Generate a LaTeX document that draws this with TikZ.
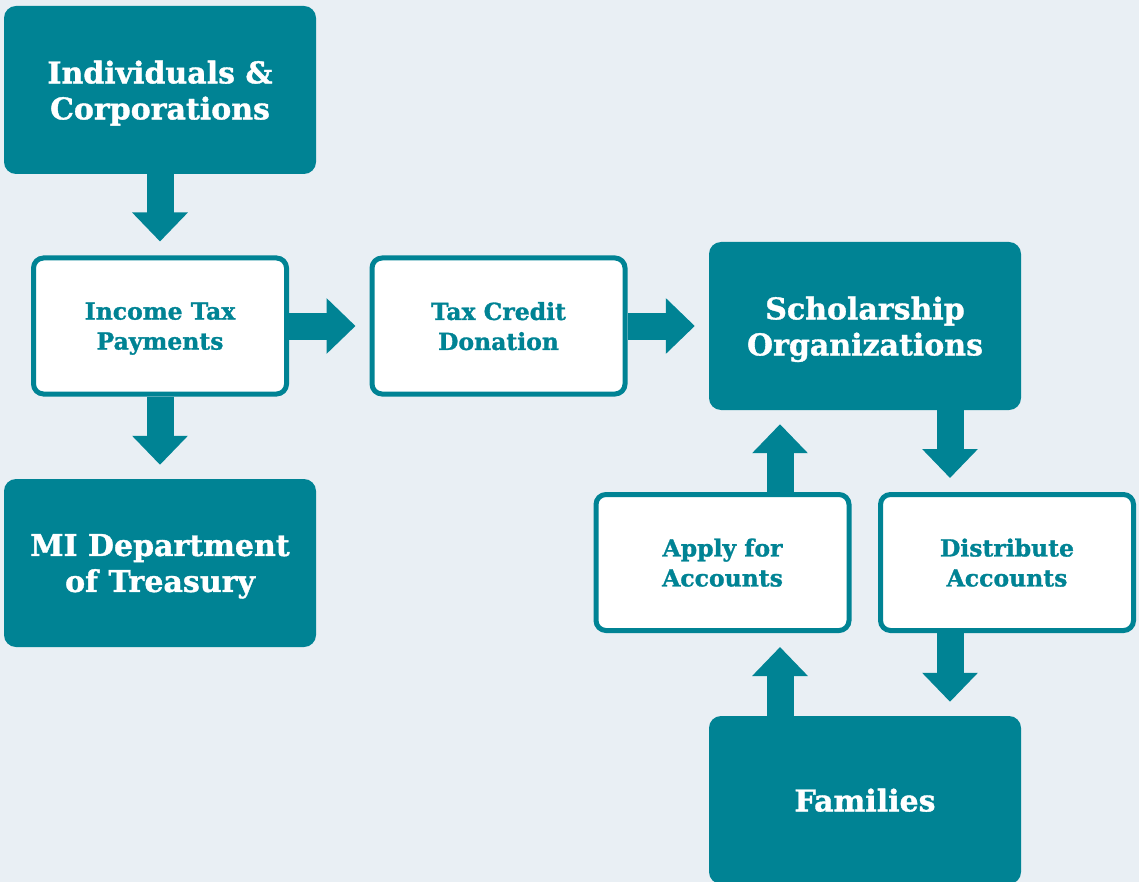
\documentclass[tikz,border=0pt]{standalone}
\usepackage{fontspec}
\newfontfamily\slab{DejaVu Serif}[BoldFeatures={FakeBold=1.2}]
\usetikzlibrary{arrows.meta,calc}
\definecolor{teal}{RGB}{0,131,148}
\definecolor{bgpale}{RGB}{233,239,244}
\begin{document}
\begin{tikzpicture}[x=1pt,y=-1pt,
  darkbox/.style={fill=teal, draw=none, rounded corners=12pt, text=white,
    minimum width=312pt, minimum height=168pt, inner sep=0pt, align=center,
    text depth=0pt, font=\slab\bfseries\fontsize{30}{36}\selectfont},
  lightbox/.style={fill=white, draw=teal, line width=5pt, rounded corners=10pt, text=teal,
    minimum width=253pt, minimum height=136pt, inner sep=0pt, align=center,
    text depth=0pt, font=\slab\bfseries\fontsize{23.5}{30}\selectfont},
  bigarrow/.style={draw=teal, line width=27pt,
    -{Triangle[length=29pt,width=54pt]}, shorten >=14pt}]
  % canvas
  \fill[bgpale] (0,0) rectangle (1139,882);
  \clip (0,0) rectangle (1139,882);
  \useasboundingbox (0,0) rectangle (1139,882);

  % boxes
  \node[darkbox] (indiv) at (160,90) {Individuals \&\\Corporations};
  \node[lightbox] (income) at (160,326) {Income Tax\\Payments};
  \node[darkbox] (treas) at (160,563) {MI Department\\of Treasury};
  \node[lightbox] (credit) at (498.5,326) {Tax Credit\\Donation};
  \node[darkbox] (schol) at (865,326) {Scholarship\\Organizations};
  \node[lightbox] (apply) at (722.5,562.5) {Apply for\\Accounts};
  \node[lightbox] (distr) at (1007,562.5) {Distribute\\Accounts};
  \node[darkbox] (fam) at (865,800) {Families};

  % columns used by the offset arrows
  \coordinate (xl) at (780,0);
  \coordinate (xr) at (950,0);

  % arrows
  \draw[bigarrow] (indiv.south) -- (income.north);
  \draw[bigarrow] (income.south) -- (treas.north);
  \draw[bigarrow] (income.east) -- (credit.west);
  \draw[bigarrow] (credit.east) -- (schol.west);
  \draw[bigarrow] (schol.south -| xr) -- (distr.north -| xr);
  \draw[bigarrow] (distr.south -| xr) -- (fam.north -| xr);
  \draw[bigarrow] (fam.north -| xl) -- (apply.south -| xl);
  \draw[bigarrow] (apply.north -| xl) -- (schol.south -| xl);
\end{tikzpicture}
\end{document}
